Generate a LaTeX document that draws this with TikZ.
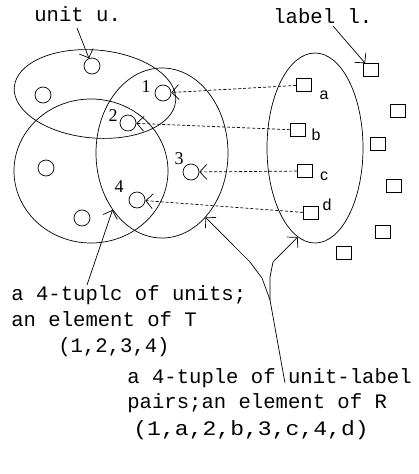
\documentclass[tikz,border=0pt]{standalone}
\usepackage{fontspec}
\setmainfont{Liberation Serif}
\newfontfamily\monofont{Liberation Mono}
\newfontfamily\lettersans{Liberation Sans}
\usetikzlibrary{arrows.meta,shapes.geometric}

\begin{document}
\begin{tikzpicture}[x=1pt,y=-1pt,
  line width=0.7pt,
  region/.style={ellipse,draw,inner sep=0pt},
  unit/.style={circle,draw,minimum size=16pt,inner sep=0pt},
  lab/.style={rectangle,draw,minimum width=15pt,minimum height=13pt,inner sep=0pt},
  num/.style={font=\fontsize{18}{18}\selectfont,inner sep=0pt},
  let/.style={font=\lettersans\fontsize{16}{16}\selectfont,inner sep=0pt},
  caption/.style={font=\monofont\fontsize{20.6}{24}\selectfont,inner sep=0pt,anchor=base west},
  tip/.style={-{Straight Barb[length=7pt,width=15pt]}},
  link/.style={tip,dash pattern=on 3pt off 2pt}]

\useasboundingbox (0,0) rectangle (419,474);

% regions
\node[region,minimum width=162pt,minimum height=88pt,rotate=-5] (U) at (95,94) {};
\node[region,minimum width=154pt,minimum height=144pt] (L) at (91,171) {};
\node[region,minimum width=132pt,minimum height=170pt] (T) at (162,153) {};
\node[region,minimum width=96pt,minimum height=190pt] (R) at (315,148) {};

% units
\node[unit] (uu) at (92,66) {};
\node[unit] (ua) at (43,95) {};
\node[unit] (u1) at (163,93) {};
\node[unit] (u2) at (128,123) {};
\node[unit] (u3) at (191,172) {};
\node[unit] (u4) at (137,200) {};
\node[unit] (ub) at (46,168) {};
\node[unit] (uc) at (82,218) {};

\node[num] (n1) at (146,87) {1};
\node[num] (n2) at (113,116) {2};
\node[num] (n3) at (179,159) {3};
\node[num] (n4) at (119,187) {4};

% labels
\node[lab] (sa) at (304,85) {};
\node[lab] (sb) at (298,130) {};
\node[lab] (sc) at (305,171) {};
\node[lab] (sd) at (311,213) {};
\node[lab] (sl) at (371,70) {};
\node[lab] (s6) at (398,111) {};
\node[lab] (s7) at (378,144) {};
\node[lab] (s8) at (394,186) {};
\node[lab] (s9) at (383,232) {};
\node[lab] (s10) at (344,253) {};

\node[let] (la) at (324,95) {a};
\node[let] (lb) at (316,135) {b};
\node[let] (lc) at (324,176) {c};
\node[let] (ld) at (327,205) {d};

% unit-label pairs
\draw[link] (sa) -- (u1);
\draw[link] (sb) -- (u2);
\draw[link] (sc) -- (u3);
\draw[link] (sd) -- (u4);

% captions at the top
\node[caption] (tu) at (34,21) {unit u.};
\coordinate (tus) at (77,28);
\draw[tip] (tus) -- (uu);
\node[caption] (tl) at (273,23) {label l.};
\coordinate (tls) at (333,26);
\draw[tip] (tls) -- (sl);

% captions at the bottom
\node[caption] (c1) at (11,300) {a 4-tuplc of units;};
\node[caption] (c2) at (11,326) {an element of T};
\node[caption] (c3) at (58,352) {(1,2,3,4)};
\node[caption] (c4) at (127,383) {a 4-tuple of unit-label};
\node[caption] (c5) at (127,408) {pairs;an element of R};
\node[caption,xscale=1.12,transform shape] (c6) at (133,435) {(1,a,2,b,3,c,4,d)};

\coordinate (p1) at (87,285);
\draw[tip] (p1) -- (T.229.7);

\coordinate (pend) at (285,383);
\coordinate (fork) at (270,300);
\draw (pend) -- (fork);
\draw[tip] (fork) -- (262,278) -- (250,262) -- (T.-56.5);
\draw[tip] (fork) -- (270,277) -- (273,262) -- (R.259.2);

\end{tikzpicture}
\end{document}
